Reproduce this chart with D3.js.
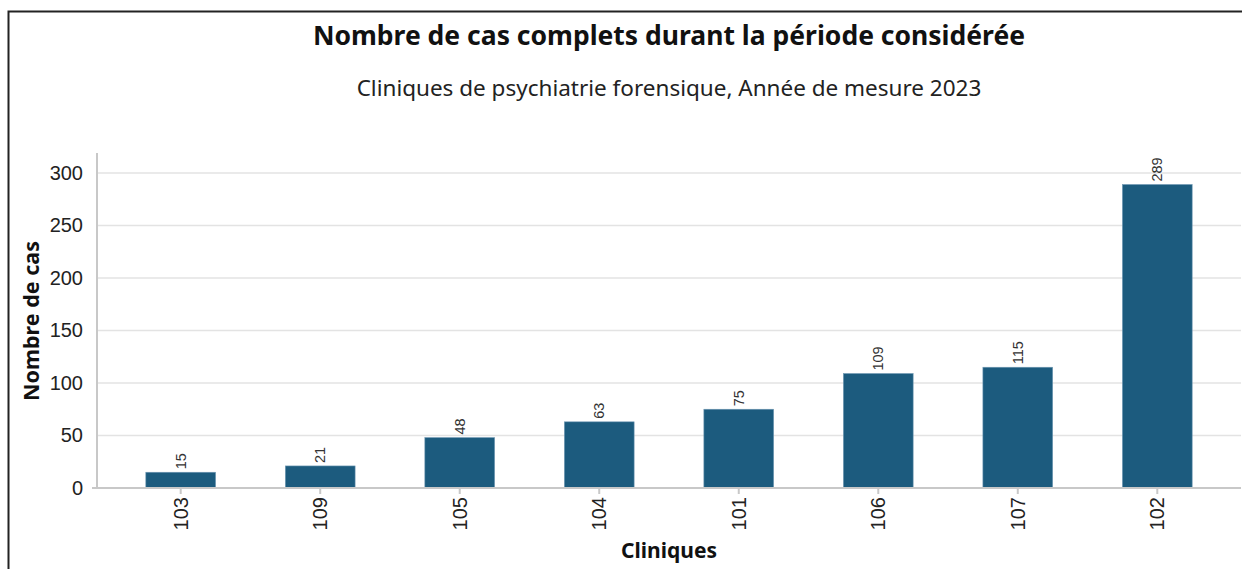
<!DOCTYPE html>
<html>
<head>
<meta charset="utf-8">
<script src="https://cdn.jsdelivr.net/npm/d3@7"></script>
<style>
  body { margin: 0; background: #fff; }
  svg { display: block; font-family: "Noto Sans", sans-serif; }
  .grid line { stroke: #e3e3e3; stroke-width: 1.5; }
  .axis path, .axis line { stroke: #c8c8c8; stroke-width: 2; }
  .axis text { fill: #222; font-size: 20px; }
  .bar { fill: #1c5b7e; stroke: #6f98b3; stroke-width: 0.6; }
  .value { font-family: "Liberation Sans", Arial, sans-serif; font-size: 14.5px; fill: #333; }
</style>
</head>
<body>
<div id="chart"></div>
<script>
var cliniques = ["103", "109", "105", "104", "101", "106", "107", "102"];
var nombreCas = [15, 21, 48, 63, 75, 109, 115, 289];
var yTicks = [0, 50, 100, 150, 200, 250, 300];

var titre = "Nombre de cas complets durant la période considérée";
var sousTitre = "Cliniques de psychiatrie forensique, Année de mesure 2023";

var width = 1242, height = 569;
var margin = {top: 153, right: 1, bottom: 81, left: 97};
var innerW = width - margin.left - margin.right;
var innerH = height - margin.top - margin.bottom;

var data = cliniques.map(function (c, i) { return {clinique: c, cas: nombreCas[i]}; });

var svg = d3.select("#chart").append("svg")
    .attr("width", width)
    .attr("height", height);

// frame
svg.append("path")
    .attr("d", "M8.5," + height + "V11.5H" + width)
    .attr("fill", "none")
    .attr("stroke", "#222")
    .attr("stroke-width", 2);

var g = svg.append("g").attr("transform", "translate(" + margin.left + "," + margin.top + ")");

var x = d3.scaleBand()
    .domain(cliniques)
    .range([0, innerW])
    .paddingInner(0.5)
    .paddingOuter(0.35);

var y = d3.scaleLinear()
    .domain([0, 319])
    .range([innerH, 0]);

// gridlines
g.append("g").attr("class", "grid")
    .selectAll("line")
    .data(yTicks.filter(function (d) { return d > 0; }))
    .enter().append("line")
    .attr("x1", 0).attr("x2", innerW)
    .attr("y1", function (d) { return y(d); })
    .attr("y2", function (d) { return y(d); });

// bars
g.selectAll(".bar")
    .data(data)
    .enter().append("rect")
    .attr("class", "bar")
    .attr("x", function (d) { return x(d.clinique); })
    .attr("width", x.bandwidth())
    .attr("y", function (d) { return y(d.cas); })
    .attr("height", function (d) { return innerH - y(d.cas); });

// value labels
g.selectAll(".value")
    .data(data)
    .enter().append("text")
    .attr("class", "value")
    .attr("transform", function (d) {
        return "translate(" + (x(d.clinique) + x.bandwidth() / 2 + 5) + "," + (y(d.cas) - 3) + ") rotate(-90)";
    })
    .attr("text-anchor", "start")
    .text(function (d) { return d.cas; });

// y axis
var yAxis = g.append("g").attr("class", "axis y")
    .call(d3.axisLeft(y).tickValues(yTicks).tickSize(0).tickPadding(14));
yAxis.select(".domain").attr("d", "M0," + innerH + "V0");

// x axis
var xAxis = g.append("g").attr("class", "axis x")
    .attr("transform", "translate(0," + innerH + ")")
    .call(d3.axisBottom(x).tickSize(6).tickSizeOuter(0));
xAxis.select(".domain").attr("d", "M-5,0H" + innerW);
xAxis.selectAll("text")
    .attr("transform", "rotate(-90)")
    .attr("text-anchor", "end")
    .attr("x", -9)
    .attr("y", 0)
    .attr("dy", "0.35em");

// titles
var cx = margin.left + innerW / 2;
svg.append("text")
    .attr("x", cx).attr("y", 45)
    .attr("text-anchor", "middle")
    .style("font-size", "26.5px").style("font-weight", "bold").style("fill", "#111")
    .text(titre);
svg.append("text")
    .attr("x", cx).attr("y", 96)
    .attr("text-anchor", "middle")
    .style("font-size", "22.5px").style("fill", "#222")
    .text(sousTitre);

// axis labels
svg.append("text")
    .attr("transform", "translate(39," + 321 + ") rotate(-90)")
    .attr("text-anchor", "middle")
    .style("font-size", "21.5px").style("font-weight", "bold").style("fill", "#111")
    .text("Nombre de cas");
svg.append("text")
    .attr("x", cx).attr("y", 558)
    .attr("text-anchor", "middle")
    .style("font-size", "21px").style("font-weight", "bold").style("fill", "#111")
    .text("Cliniques");
</script>
</body>
</html>
